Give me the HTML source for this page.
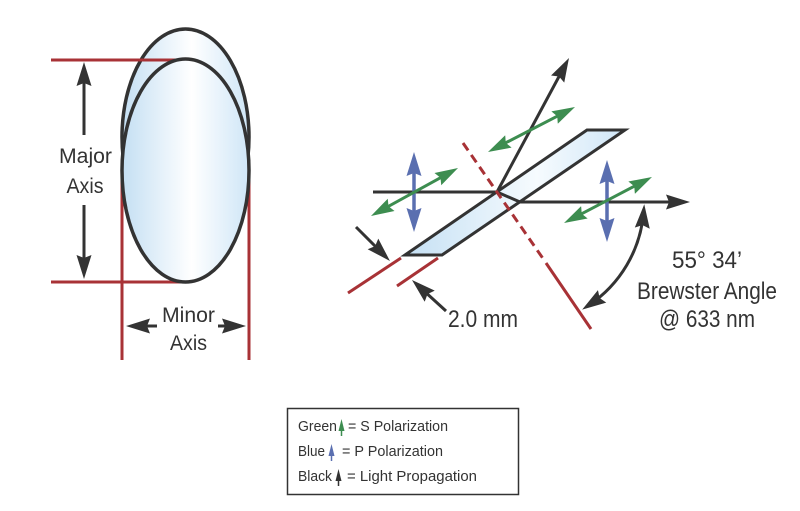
<!DOCTYPE html>
<html>
<head>
<meta charset="utf-8">
<style>
  html,body{margin:0;padding:0;background:#fff;}
  svg{display:block;}
  text{font-family:"Liberation Sans",Arial,sans-serif;fill:#333;}
</style>
</head>
<body>
<svg width="800" height="511" viewBox="0 0 800 511" xmlns="http://www.w3.org/2000/svg">
  <defs>
    <linearGradient id="gEl" x1="0" y1="0" x2="1" y2="0">
      <stop offset="0" stop-color="#c4dff3"/>
      <stop offset="0.55" stop-color="#ffffff"/>
      <stop offset="1" stop-color="#cfe6f7"/>
    </linearGradient>
    <linearGradient id="gPl" gradientUnits="userSpaceOnUse" x1="405" y1="0" x2="625" y2="0">
      <stop offset="0" stop-color="#c5e0f4"/>
      <stop offset="0.6" stop-color="#f6fbfe"/>
      <stop offset="1" stop-color="#cfe6f7"/>
    </linearGradient>
    <marker id="ak" markerUnits="userSpaceOnUse" markerWidth="40" markerHeight="24" viewBox="0 0 40 24" refX="16" refY="12" orient="auto-start-reverse">
      <path d="M24,12 L0,4.5 L3,12 L0,19.5 Z" fill="#333"/>
    </marker>
    <marker id="ag" markerUnits="userSpaceOnUse" markerWidth="40" markerHeight="24" viewBox="0 0 40 24" refX="15" refY="12" orient="auto-start-reverse">
      <path d="M23,12 L0,5 L3,12 L0,19 Z" fill="#3d8d50"/>
    </marker>
    <marker id="ab" markerUnits="userSpaceOnUse" markerWidth="40" markerHeight="24" viewBox="0 0 40 24" refX="16" refY="12" orient="auto-start-reverse">
      <path d="M24,12 L0,4.5 L3,12 L0,19.5 Z" fill="#5a6fb0"/>
    </marker>
  </defs>

  <!-- ===== Left: ellipse ===== -->
  <g stroke="#a83236" stroke-width="3" fill="none">
    <line x1="122" y1="170" x2="122" y2="360"/>
    <line x1="249" y1="160" x2="249" y2="360"/>
    <line x1="51" y1="282" x2="185" y2="282"/>
  </g>
  <ellipse cx="185.5" cy="137" rx="63.5" ry="108" fill="url(#gEl)" stroke="#333" stroke-width="3.5"/>
  <line x1="51" y1="60" x2="185" y2="60" stroke="#a83236" stroke-width="3"/>
  <ellipse cx="185.5" cy="170.5" rx="63.5" ry="111.5" fill="url(#gEl)" stroke="#333" stroke-width="3.5"/>

  <g stroke="#333" stroke-width="3" fill="none">
    <line x1="84" y1="135" x2="84" y2="70" marker-end="url(#ak)"/>
    <line x1="84" y1="205" x2="84" y2="271" marker-end="url(#ak)"/>
    <line x1="157" y1="326" x2="134" y2="326" marker-end="url(#ak)"/>
    <line x1="218" y1="326" x2="238" y2="326" marker-end="url(#ak)"/>
  </g>

  <text x="85.5" y="163" font-size="21" text-anchor="middle" textLength="53" lengthAdjust="spacingAndGlyphs">Major</text>
  <text x="85" y="193" font-size="21" text-anchor="middle" textLength="37" lengthAdjust="spacingAndGlyphs">Axis</text>
  <text x="188.5" y="322" font-size="21" text-anchor="middle" textLength="53" lengthAdjust="spacingAndGlyphs">Minor</text>
  <text x="188.5" y="350" font-size="21" text-anchor="middle" textLength="37" lengthAdjust="spacingAndGlyphs">Axis</text>

  <!-- ===== Right: Brewster plate ===== -->
  <polygon points="405,255 587,130 625,130 442,255" fill="url(#gPl)" stroke="#333" stroke-width="3" stroke-linejoin="miter"/>

  <g stroke="#333" stroke-width="3" fill="none">
    <line x1="373" y1="192" x2="497" y2="192"/>
    <polyline points="497,192 520,202 682,202" marker-end="url(#ak)"/>
    <line x1="497" y1="192" x2="565.2" y2="65.0" marker-end="url(#ak)"/>
    <line x1="356" y1="227" x2="384.3" y2="255.3" marker-end="url(#ak)"/>
    <line x1="446" y1="311" x2="417.9" y2="285.4" marker-end="url(#ak)"/>
    <path d="M643.6,212.2 A124,124 0 0 1 588.8,305.2" marker-start="url(#ak)" marker-end="url(#ak)"/>
  </g>

  <!-- red thickness lines -->
  <g stroke="#a83236" stroke-width="3" fill="none">
    <line x1="348" y1="293" x2="401" y2="258"/>
    <line x1="397" y1="286" x2="438" y2="258"/>
  </g>

  <!-- blue P arrows -->
  <g stroke="#5a6fb0" stroke-width="3.5" fill="none">
    <line x1="414" y1="160" x2="414" y2="224" marker-start="url(#ab)" marker-end="url(#ab)"/>
    <line x1="607" y1="168" x2="607" y2="234" marker-start="url(#ab)" marker-end="url(#ab)"/>
  </g>

  <!-- green S arrows -->
  <g stroke="#3d8d50" stroke-width="3" fill="none">
    <line x1="495.1" y1="148.3" x2="567.9" y2="110.7" marker-start="url(#ag)" marker-end="url(#ag)"/>
    <line x1="378" y1="212.1" x2="451" y2="171.9" marker-start="url(#ag)" marker-end="url(#ag)"/>
    <line x1="571.1" y1="219.3" x2="644.9" y2="180.7" marker-start="url(#ag)" marker-end="url(#ag)"/>
  </g>

  <!-- red normal -->
  <g stroke="#a83236" stroke-width="3" fill="none">
    <line x1="463" y1="143" x2="544" y2="260" stroke-dasharray="9 5.5"/>
    <line x1="546" y1="263" x2="591" y2="329"/>
  </g>

  <text x="448" y="327" font-size="24" textLength="70" lengthAdjust="spacingAndGlyphs">2.0 mm</text>
  <text x="707" y="268" font-size="24" text-anchor="middle" textLength="70" lengthAdjust="spacingAndGlyphs">55° 34’</text>
  <text x="707" y="299" font-size="24" text-anchor="middle" textLength="140" lengthAdjust="spacingAndGlyphs">Brewster Angle</text>
  <text x="707" y="327" font-size="24" text-anchor="middle" textLength="96" lengthAdjust="spacingAndGlyphs">@ 633 nm</text>

  <!-- ===== Legend ===== -->
  <rect x="287.5" y="408.5" width="231" height="86" fill="#fff" stroke="#333" stroke-width="1.5"/>

  <text x="298" y="431" font-size="14.5" textLength="39" lengthAdjust="spacingAndGlyphs">Green</text>
  <polygon points="341.5,419 344.5,431 338.5,431" fill="#3d8d50"/>
  <line x1="341.5" y1="430" x2="341.5" y2="436" stroke="#3d8d50" stroke-width="1.5"/>
  <text x="348" y="431" font-size="14.5" textLength="100" lengthAdjust="spacingAndGlyphs">= S Polarization</text>

  <text x="298" y="456" font-size="14.5" textLength="27" lengthAdjust="spacingAndGlyphs">Blue</text>
  <polygon points="331.5,444 334.5,456 328.5,456" fill="#5a6fb0"/>
  <line x1="331.5" y1="455" x2="331.5" y2="461" stroke="#5a6fb0" stroke-width="1.5"/>
  <text x="342" y="456" font-size="14.5" textLength="101" lengthAdjust="spacingAndGlyphs">= P Polarization</text>

  <text x="298" y="481" font-size="14.5" textLength="34" lengthAdjust="spacingAndGlyphs">Black</text>
  <polygon points="338.5,469 341.5,481 335.5,481" fill="#333"/>
  <line x1="338.5" y1="480" x2="338.5" y2="486" stroke="#333" stroke-width="1.5"/>
  <text x="347" y="481" font-size="14.5" textLength="130" lengthAdjust="spacingAndGlyphs">= Light Propagation</text>
</svg>
</body>
</html>
